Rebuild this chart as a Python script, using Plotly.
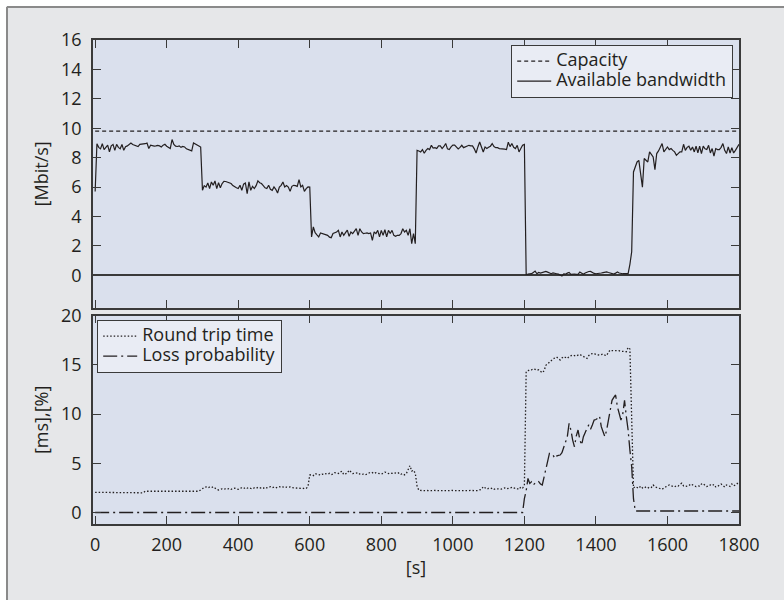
import plotly.graph_objects as go

# ---------------- data ----------------
time_s = list(range(0, 1805, 5))  # sampling grid [s]

capacity_t = [0, 1800]
capacity_v = [9.8, 9.8]

bw_0_295 = [5.7, 8.95, 8.7, 8.6, 8.95, 8.55, 8.7, 8.85, 8.4, 8.8, 8.9, 8.5, 8.9, 8.7, 8.6, 8.9, 8.5, 8.75, 8.8, 8.9,
            9.0, 8.9, 8.85, 8.8, 8.75, 8.9, 8.9, 8.92, 8.95, 9.0, 8.62, 8.85, 8.8, 8.78, 8.8, 8.84, 8.8, 8.73, 8.85, 8.91,
            8.78, 8.7, 8.62, 9.23, 8.9, 8.78, 8.76, 8.8, 8.7, 8.76, 8.73, 8.6, 8.55, 8.5, 8.46, 9.0, 8.95, 8.9, 8.8, 8.72]
bw_300_595 = [5.78, 6.1, 6.0, 6.28, 5.9, 6.35, 6.12, 6.42, 5.9, 6.3, 5.95, 6.24, 6.39, 6.38, 6.35, 6.3, 6.24, 6.1, 6.01, 5.95,
              5.9, 6.12, 5.78, 6.2, 6.28, 5.56, 6.35, 5.78, 6.05, 5.9, 6.1, 6.42, 6.3, 6.24, 6.1, 5.95, 5.9, 6.12, 5.85, 5.78,
              6.01, 5.85, 5.6, 6.0, 6.12, 6.35, 6.01, 6.1, 6.0, 5.71, 6.05, 6.12, 6.1, 6.05, 6.51, 6.01, 6.12, 5.71, 5.9, 6.01]
bw_600_895 = [6.0, 2.61, 3.29, 2.9, 2.75, 2.61, 2.88, 2.84, 2.8, 2.79, 2.72, 2.6, 2.56, 2.84, 2.88, 2.95, 3.06, 2.61, 2.95, 2.72,
              2.9, 3.08, 2.65, 2.95, 2.84, 3.0, 3.17, 2.72, 3.17, 2.95, 2.84, 2.86, 2.88, 2.84, 2.88, 2.38, 2.95, 2.84, 3.06, 2.61,
              3.06, 2.72, 3.1, 2.61, 3.06, 2.84, 3.06, 2.72, 2.65, 2.72, 2.72, 2.84, 3.17, 2.95, 3.06, 2.72, 3.17, 2.15, 2.84, 2.15]
bw_900_1195 = [8.5, 8.45, 8.39, 8.55, 8.3, 8.5, 8.62, 8.55, 8.84, 8.65, 8.68, 8.62, 8.8, 8.8, 8.62, 8.76, 8.96, 8.6, 8.55, 8.73,
               8.85, 8.85, 8.73, 8.6, 8.7, 8.84, 8.68, 8.75, 8.78, 8.84, 8.8, 8.8, 8.6, 8.32, 8.73, 9.07, 8.73, 8.39, 8.73, 8.62,
               8.7, 8.78, 8.96, 8.75, 8.68, 8.68, 8.62, 8.62, 8.62, 8.58, 8.55, 9.05, 8.75, 8.96, 8.7, 8.62, 8.84, 8.39, 8.62, 8.84]
bw_1200_1495 = [8.9, 0.07, 0.08, 0.07, 0.11, 0.2, 0.29, 0.11, 0.2, 0.15, 0.2, 0.23, 0.27, 0.22, 0.16, 0.11, 0.16, 0.16, 0.11, 0.08,
                0.02, -0.05, 0.1, 0.08, 0.15, 0.2, 0.07, 0.1, 0.09, 0.07, 0.07, 0.23, 0.12, 0.07, 0.16, 0.22, 0.26, 0.27, 0.18, 0.13,
                0.11, 0.11, 0.13, 0.16, 0.19, 0.21, 0.23, 0.19, 0.16, 0.08, 0.09, 0.15, 0.23, 0.16, 0.11, 0.11, 0.11, 0.11, 0.11, 0.75]
bw_1500_1800 = [1.6, 7.03, 7.4, 7.71, 7.82, 7.0, 6.0, 7.94, 7.8, 7.71, 8.39, 8.2, 8.05, 7.19, 8.28, 8.46, 8.7, 8.96, 8.39, 8.6,
                8.73, 8.55, 8.62, 8.5, 8.39, 8.16, 8.3, 8.39, 8.39, 8.91, 8.5, 8.7, 8.78, 8.5, 8.73, 8.39, 8.78, 8.32, 8.78, 8.28,
                8.78, 8.6, 8.55, 8.84, 8.32, 8.62, 8.1, 8.62, 8.55, 8.55, 8.7, 8.96, 8.5, 8.28, 8.73, 8.32, 8.68, 8.32, 8.5, 8.73,
                8.91]
bandwidth = bw_0_295 + bw_300_595 + bw_600_895 + bw_900_1195 + bw_1200_1495 + bw_1500_1800

rtt_0_295 = [2.05, 2.05, 2.05, 2.05, 2.05, 2.05, 2.05, 2.05, 2.05, 2.05, 2.05, 2.05, 2.05, 2.05, 2.05, 2.05, 2.05, 2.05, 2.05, 2.05,
             2.05, 2.05, 2.05, 2.05, 2.05, 2.05, 2.05, 2.0, 2.16, 2.16, 2.16, 2.16, 2.16, 2.16, 2.16, 2.16, 2.16, 2.16, 2.16, 2.16,
             2.16, 2.16, 2.16, 2.16, 2.16, 2.16, 2.16, 2.16, 2.16, 2.16, 2.16, 2.16, 2.16, 2.16, 2.16, 2.16, 2.16, 2.16, 2.16, 2.3]
rtt_300_595 = [2.46, 2.55, 2.6, 2.5, 2.58, 2.52, 2.62, 2.45, 2.35, 2.29, 2.32, 2.4, 2.35, 2.42, 2.38, 2.45, 2.35, 2.4, 2.48, 2.42,
               2.35, 2.45, 2.5, 2.42, 2.55, 2.47, 2.52, 2.45, 2.4, 2.5, 2.45, 2.55, 2.48, 2.52, 2.45, 2.58, 2.5, 2.55, 2.62, 2.52,
               2.58, 2.5, 2.55, 2.63, 2.55, 2.6, 2.52, 2.58, 2.55, 2.6, 2.52, 2.5, 2.52, 2.48, 2.5, 2.45, 2.48, 2.42, 2.45, 2.63]
rtt_600_895 = [3.81, 3.85, 3.75, 3.95, 3.9, 3.85, 3.8, 3.9, 3.85, 3.95, 3.9, 3.98, 3.85, 3.9, 4.05, 4.0, 3.95, 4.1, 4.2, 3.85,
               3.9, 4.0, 4.3, 4.1, 3.95, 3.98, 4.0, 4.05, 3.9, 3.85, 3.9, 3.82, 3.9, 4.0, 4.1, 4.05, 3.95, 4.05, 4.0, 3.95,
               3.9, 3.98, 4.1, 4.05, 3.95, 4.0, 3.98, 4.05, 4.0, 3.95, 4.05, 3.9, 3.95, 3.82, 3.95, 4.3, 4.76, 4.2, 4.3, 3.98]
rtt_900_1195 = [2.7, 2.25, 2.22, 2.2, 2.22, 2.24, 2.22, 2.2, 2.22, 2.25, 2.22, 2.2, 2.22, 2.22, 2.25, 2.22, 2.22, 2.2, 2.22, 2.24,
                2.22, 2.22, 2.2, 2.22, 2.22, 2.25, 2.22, 2.22, 2.2, 2.22, 2.24, 2.22, 2.22, 2.25, 2.22, 2.3, 2.35, 2.63, 2.5, 2.38,
                2.45, 2.4, 2.48, 2.35, 2.42, 2.4, 2.45, 2.38, 2.42, 2.5, 2.4, 2.45, 2.48, 2.55, 2.45, 2.5, 2.42, 2.35, 2.6, 2.5]
rtt_1200_1495 = [2.7, 14.3, 14.4, 14.5, 14.5, 14.6, 14.55, 14.45, 14.5, 14.3, 14.2, 14.4, 14.96, 15.1, 15.3, 15.45, 15.6, 15.7, 15.8, 15.65,
                 15.5, 15.7, 15.83, 15.75, 15.66, 15.85, 15.9, 16.0, 15.95, 15.9, 16.0, 16.07, 15.95, 15.85, 15.7, 15.66, 15.95, 16.1, 16.15, 16.17,
                 16.05, 16.0, 16.0, 16.05, 16.1, 16.0, 15.95, 16.3, 16.51, 16.45, 16.44, 16.5, 16.48, 16.44, 16.38, 16.34, 16.36, 16.34, 16.78, 16.6]
rtt_1500_1800 = [9.0, 2.5, 2.63, 2.55, 2.46, 2.68, 2.5, 2.46, 2.63, 2.55, 2.46, 2.55, 2.8, 2.6, 2.55, 2.46, 2.4, 2.36, 2.5, 2.63,
                 2.7, 2.8, 2.72, 2.68, 2.6, 2.72, 2.68, 2.85, 2.97, 2.7, 2.63, 2.68, 2.72, 2.9, 2.8, 2.7, 2.63, 2.7, 2.68, 2.9,
                 2.95, 2.75, 2.63, 2.7, 2.8, 2.72, 2.85, 2.6, 2.63, 2.8, 2.9, 2.75, 2.6, 2.8, 2.72, 2.65, 2.9, 2.7, 2.8, 2.95,
                 2.8]
rtt = rtt_0_295 + rtt_300_595 + rtt_600_895 + rtt_900_1195 + rtt_1200_1495 + rtt_1500_1800

loss_t = [0, 1195, 1200, 1205, 1210, 1215, 1220, 1225, 1230, 1235, 1240, 1245, 1250, 1255, 1260, 1265, 1270, 1275, 1280, 1285,
          1290, 1295, 1300, 1305, 1310, 1315, 1320, 1325, 1330, 1335, 1340, 1345, 1350, 1355, 1360, 1365, 1370, 1375, 1380,
          1385, 1390, 1395, 1400, 1405, 1410, 1415, 1420, 1425, 1430, 1435, 1440, 1445, 1450, 1455, 1460, 1465, 1470, 1475,
          1480, 1485, 1490, 1495, 1500, 1505, 1510, 1800]
loss_v = [0.0, 0.0, 1.4, 2.2, 3.47, 2.96, 3.13, 2.8, 3.0, 2.96, 3.13, 2.9, 2.8, 3.64, 4.5, 5.17, 6.0, 5.9, 5.84, 5.5,
          5.74, 5.8, 5.84, 6.07, 6.6, 7.2, 7.7, 9.06, 8.38, 7.36, 6.68, 7.77, 8.38, 7.4, 6.85, 7.7, 8.2, 8.55, 8.9,
          8.45, 8.9, 9.4, 9.45, 9.57, 9.8, 8.72, 8.2, 7.7, 8.38, 9.4, 10.25, 11.4, 11.7, 11.94, 10.75, 10.07, 9.4, 10.0,
          11.4, 9.74, 8.38, 6.34, 4.64, 1.4, 0.15, 0.15]

x_ticks = [0, 200, 400, 600, 800, 1000, 1200, 1400, 1600, 1800]
y_top_ticks = [0, 2, 4, 6, 8, 10, 12, 14, 16]
y_bot_ticks = [0, 5, 10, 15, 20]

assert len(bandwidth) == len(time_s), len(bandwidth)
assert len(rtt) == len(time_s), len(rtt)
assert len(loss_t) == len(loss_v), (len(loss_t), len(loss_v))

# ---------------- figure ----------------
INK = "#231f20"
FONT = "Open Sans"
W, H = 784, 600
ML, MR, MT, MB = 93, 45, 40, 76
PW, PH = W - ML - MR, H - MT - MB


def px_x(p):
    return (p - ML) / PW


def px_y(p):
    return (H - MB - p) / PH


def legend_label(text):
    # legend rows are tighter than the label font: row height comes from the
    # legend font size, the label itself is drawn at 18px
    return '<span style="font-size:18px">%s</span>' % text


fig = go.Figure()
fig.add_trace(go.Scatter(x=capacity_t, y=capacity_v, mode="lines", name=legend_label("Capacity"),
                         line=dict(color=INK, width=1.2, dash="4px,3px"),
                         xaxis="x2", yaxis="y2", legend="legend"))
fig.add_trace(go.Scatter(x=time_s, y=bandwidth, mode="lines", name=legend_label("Available bandwidth"),
                         line=dict(color=INK, width=1.2),
                         xaxis="x2", yaxis="y2", legend="legend"))
fig.add_trace(go.Scatter(x=time_s, y=rtt, mode="lines", name=legend_label("Round trip time"),
                         line=dict(color=INK, width=1.3, dash="1.5px,2px"),
                         xaxis="x", yaxis="y", legend="legend2"))
fig.add_trace(go.Scatter(x=loss_t, y=loss_v, mode="lines", name=legend_label("Loss probability"),
                         line=dict(color=INK, width=1.3, dash="14px,4px,2px,4px"),
                         xaxis="x", yaxis="y", legend="legend2"))

axis_common = dict(showline=True, linecolor="#3a3a3a", linewidth=1.5, mirror="ticks",
                   ticks="inside", ticklen=8, tickwidth=1.2, tickcolor="#3a3a3a",
                   showgrid=False, tickfont=dict(family=FONT, size=18, color=INK))

legend_common = dict(bgcolor="#e9ecf4", bordercolor="#3a3a3a", borderwidth=1.2,
                     font=dict(family=FONT, size=13, color=INK), tracegroupgap=0, itemwidth=34)

fig.update_layout(
    width=W, height=H,
    margin=dict(l=ML, r=MR, t=MT, b=MB),
    paper_bgcolor="#e6e7e9",
    plot_bgcolor="#dae0ed",
    font=dict(family=FONT, size=18, color=INK),
    xaxis=dict(axis_common, range=[-6, 1800], tickvals=x_ticks, zeroline=False,
               anchor="y", ticklabelstandoff=4,
               title=dict(text="[s]", standoff=6, font=dict(family=FONT, size=18, color=INK))),
    xaxis2=dict(axis_common, range=[-6, 1800], tickvals=x_ticks, zeroline=False,
                anchor="y2", matches="x", showticklabels=False),
    yaxis=dict(axis_common, domain=[0, px_y(315.7)], range=[-1.17, 20], tickvals=y_bot_ticks,
               zeroline=False, ticklabelstandoff=6,
               title=dict(text="[ms],[%]", standoff=8, font=dict(family=FONT, size=18, color=INK))),
    yaxis2=dict(axis_common, domain=[px_y(307.7), 1], range=[-2.2, 16], tickvals=y_top_ticks,
                zeroline=True, zerolinecolor="#3a3a3a", zerolinewidth=1.5, ticklabelstandoff=6,
                title=dict(text="[Mbit/s]", standoff=8, font=dict(family=FONT, size=18, color=INK))),
    legend=dict(legend_common, x=px_x(733), xanchor="right", y=px_y(45), yanchor="top"),
    legend2=dict(legend_common, x=px_x(97), xanchor="left", y=px_y(320), yanchor="top"),
    showlegend=True,
    shapes=[
        dict(type="rect", xref="paper", yref="paper", x0=px_x(-20), x1=px_x(6), y0=px_y(620), y1=px_y(-20),
             fillcolor="white", line=dict(width=0), layer="above"),
        dict(type="rect", xref="paper", yref="paper", x0=px_x(-20), x1=px_x(800), y0=px_y(6), y1=px_y(-20),
             fillcolor="white", line=dict(width=0), layer="above"),
        dict(type="line", xref="paper", yref="paper", x0=px_x(7), x1=px_x(7), y0=px_y(620), y1=px_y(7),
             line=dict(color="#8a8a8a", width=2), layer="above"),
        dict(type="line", xref="paper", yref="paper", x0=px_x(7), x1=px_x(800), y0=px_y(7), y1=px_y(7),
             line=dict(color="#8a8a8a", width=2), layer="above"),
    ],
)

fig.write_html("out.html", config={"displayModeBar": False},
               post_script="document.body.style.margin='0';")
